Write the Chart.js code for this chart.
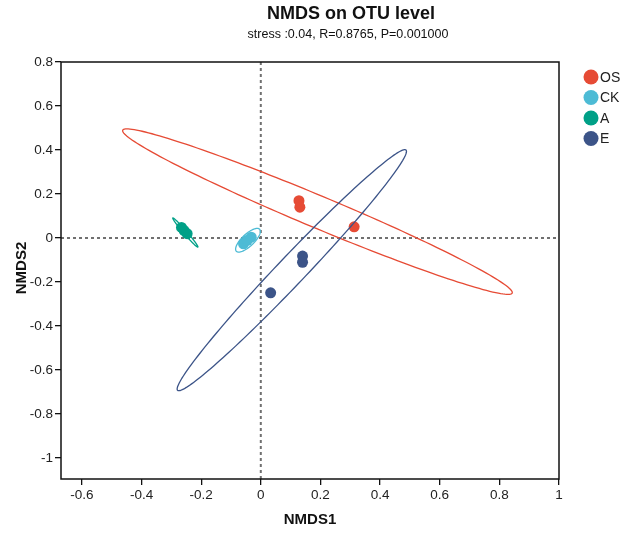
<!DOCTYPE html>
<html lang="en">
<head>
    <meta charset="UTF-8">
    <title>NMDS on OTU level</title>
    <script src="https://cdn.jsdelivr.net/npm/chart.js"></script>
    <style>
        body { margin: 0; background: #fff; }
        #wrap { width: 630px; height: 537px; }
    </style>
</head>
<body>
    <div id="wrap"><canvas id="nmdsChart" width="630" height="537"></canvas></div>

    <script>
        // groups and sample scores
        const groups = ['OS', 'CK', 'A', 'E'];
        const groupColors = ['#E64B35', '#4DBBD5', '#00A087', '#3C5488'];

        const osX = [0.128, 0.131, 0.313];
        const osY = [0.170, 0.140, 0.051];
        const ckX = [-0.058, -0.045, -0.032];
        const ckY = [-0.026, -0.010, 0.004];
        const aX = [-0.266, -0.257, -0.247];
        const aY = [0.048, 0.034, 0.020];
        const eX = [0.140, 0.140, 0.033];
        const eY = [-0.082, -0.110, -0.249];

        // confidence ellipses: centre, major semi-axis, minor semi-axis (data units)
        const ellCx = [0.190, -0.043, -0.253, 0.104];
        const ellCy = [0.120, -0.010, 0.025, -0.146];
        const ellMajX = [0.653, 0.039, 0.042, 0.383];
        const ellMajY = [-0.370, 0.050, -0.066, 0.546];
        const ellMinX = [-0.021, 0.014, -0.004, 0.034];
        const ellMinY = [-0.067, -0.020, -0.005, -0.044];

        const xTicks = [-0.6, -0.4, -0.2, 0, 0.2, 0.4, 0.6, 0.8, 1];
        const yTicks = [-1, -0.8, -0.6, -0.4, -0.2, 0, 0.2, 0.4, 0.6, 0.8];

        const seriesX = [osX, ckX, aX, eX];
        const seriesY = [osY, ckY, aY, eY];

        const FONT = '"Liberation Sans", Arial, sans-serif';

        const datasets = groups.map((g, i) => ({
            label: g,
            data: seriesX[i].map((x, j) => ({ x: x, y: seriesY[i][j] })),
            backgroundColor: groupColors[i],
            borderColor: groupColors[i],
            pointRadius: 5.5,
            pointHoverRadius: 5.5,
            borderWidth: 0
        }));

        const fmt = v => String(Math.round(v * 10) / 10);

        const decorPlugin = {
            id: 'decor',
            beforeDatasetsDraw(chart) {
                const ctx = chart.ctx;
                const a = chart.chartArea;
                const xs = chart.scales.x, ys = chart.scales.y;
                ctx.save();
                ctx.strokeStyle = '#707070';
                ctx.lineWidth = 2;
                ctx.setLineDash([3, 3]);
                const x0 = xs.getPixelForValue(0), y0 = ys.getPixelForValue(0);
                ctx.beginPath();
                ctx.moveTo(a.left, y0); ctx.lineTo(a.right, y0);
                ctx.moveTo(x0, a.top); ctx.lineTo(x0, a.bottom);
                ctx.stroke();
                ctx.restore();
            },
            afterDatasetsDraw(chart) {
                const ctx = chart.ctx;
                const xs = chart.scales.x, ys = chart.scales.y;
                ctx.save();
                ctx.lineWidth = 1.3;
                groups.forEach((g, i) => {
                    ctx.strokeStyle = groupColors[i];
                    ctx.beginPath();
                    for (let k = 0; k <= 180; k++) {
                        const t = k / 180 * Math.PI * 2;
                        const vx = ellCx[i] + Math.cos(t) * ellMajX[i] + Math.sin(t) * ellMinX[i];
                        const vy = ellCy[i] + Math.cos(t) * ellMajY[i] + Math.sin(t) * ellMinY[i];
                        const px = xs.getPixelForValue(vx), py = ys.getPixelForValue(vy);
                        if (k === 0) ctx.moveTo(px, py); else ctx.lineTo(px, py);
                    }
                    ctx.closePath();
                    ctx.stroke();
                });
                ctx.restore();
            },
            afterDraw(chart) {
                const ctx = chart.ctx;
                const a = chart.chartArea;
                ctx.save();
                // frame
                ctx.strokeStyle = '#111';
                ctx.lineWidth = 1.5;
                ctx.strokeRect(a.left, a.top, a.right - a.left, a.bottom - a.top);

                // title
                ctx.fillStyle = '#111';
                ctx.textAlign = 'center';
                ctx.textBaseline = 'middle';
                ctx.font = 'bold 18px ' + FONT;
                ctx.fillText('NMDS on OTU level', 351, 14);
                ctx.font = '12.5px ' + FONT;
                ctx.fillText('stress :0.04, R=0.8765, P=0.001000', 348, 35);

                // axis titles
                ctx.font = 'bold 15px ' + FONT;
                ctx.fillText('NMDS1', 310, 520);
                ctx.translate(22, 268);
                ctx.rotate(-Math.PI / 2);
                ctx.fillText('NMDS2', 0, 0);
                ctx.restore();

                // legend
                ctx.save();
                ctx.font = '14px ' + FONT;
                ctx.textAlign = 'left';
                ctx.textBaseline = 'middle';
                groups.forEach((g, i) => {
                    const cy = 77 + i * 20.5;
                    ctx.fillStyle = groupColors[i];
                    ctx.beginPath();
                    ctx.arc(591, cy, 7.5, 0, Math.PI * 2);
                    ctx.fill();
                    ctx.fillStyle = '#222';
                    ctx.fillText(g, 600, cy + 1);
                });
                ctx.restore();
            }
        };

        new Chart(document.getElementById('nmdsChart'), {
            type: 'scatter',
            data: { datasets: datasets },
            options: {
                responsive: false,
                animation: false,
                layout: { padding: { left: 0, right: 71, top: 62, bottom: 0 } },
                plugins: {
                    legend: { display: false },
                    title: { display: false },
                    tooltip: { enabled: false }
                },
                scales: {
                    x: {
                        type: 'linear',
                        min: -0.67,
                        max: 1,
                        afterFit: s => { s.height = 58; },
                        afterBuildTicks: s => { s.ticks = xTicks.map(v => ({ value: v })); },
                        border: { display: false },
                        grid: { drawOnChartArea: false, drawTicks: true, tickLength: 6, color: '#111', lineWidth: 1.3 },
                        ticks: {
                            callback: v => fmt(v),
                            color: '#222',
                            padding: 2,
                            maxRotation: 0,
                            font: { family: FONT, size: 13.5 }
                        }
                    },
                    y: {
                        type: 'linear',
                        min: -1.095,
                        max: 0.8,
                        afterFit: s => { s.width = 61; },
                        afterBuildTicks: s => { s.ticks = yTicks.map(v => ({ value: v })); },
                        border: { display: false },
                        grid: { drawOnChartArea: false, drawTicks: true, tickLength: 6, color: '#111', lineWidth: 1.3 },
                        ticks: {
                            callback: v => fmt(v),
                            color: '#222',
                            padding: 2,
                            font: { family: FONT, size: 13.5 }
                        }
                    }
                }
            },
            plugins: [decorPlugin]
        });
    </script>
</body>
</html>
